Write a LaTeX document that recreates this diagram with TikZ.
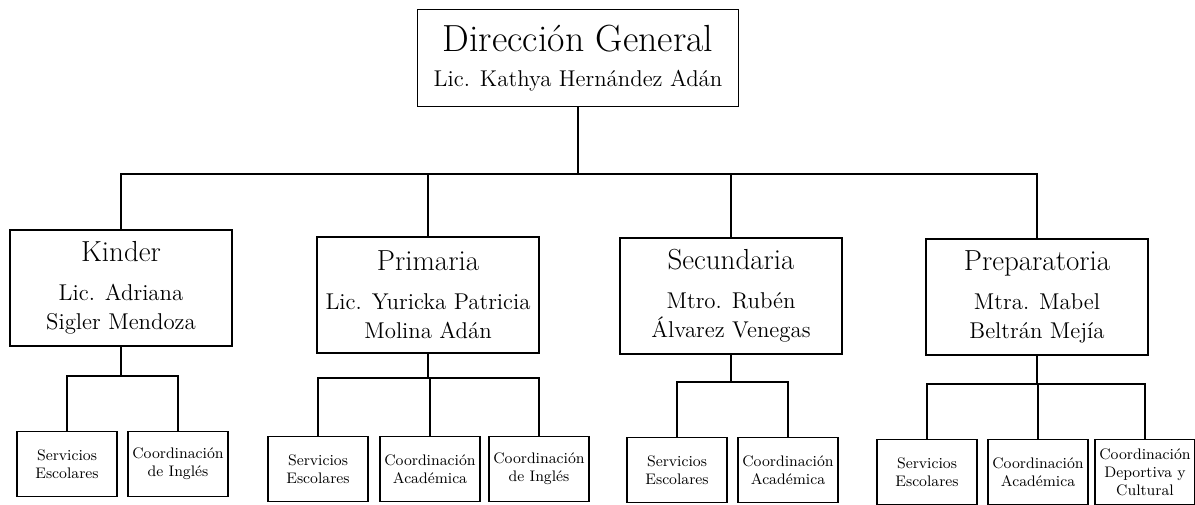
\documentclass[tikz,border=0pt]{standalone}
\usetikzlibrary{calc}
\begin{document}
\begin{tikzpicture}[x=0.02cm,y=-0.02cm,
  jefe/.style={draw,line width=0.8pt,minimum width=4.44cm,minimum height=2.32cm,align=center,inner sep=1pt,font=\fontsize{13}{16.5}\selectfont},
  area/.style={draw,line width=0.7pt,minimum width=2cm,minimum height=1.3cm,align=center,inner sep=1pt,font=\fontsize{8.7}{10.2}\selectfont},
  linea/.style={line width=0.6pt}]
\useasboundingbox (0,0) rectangle (1195,504);
\node[draw,line width=0.8pt,minimum width=6.42cm,minimum height=1.94cm,align=center,font=\fontsize{13}{14}\selectfont] (dir) at (578,58) {{\fontsize{21.5}{24}\selectfont Dirección General}\\[6pt]Lic. Kathya Hernández Adán};
\node[jefe] (kinder) at (121,288) {{\fontsize{16.5}{18}\selectfont Kinder}\\[5.7pt]Lic. Adriana\\Sigler Mendoza};
\node[jefe] (primaria) at (428,295) {{\fontsize{16.5}{18}\selectfont Primaria}\\[5.7pt]Lic. Yuricka Patricia\\Molina Adán};
\node[jefe] (secundaria) at (731,296) {{\fontsize{16.5}{18}\selectfont Secundaria}\\[5.7pt]Mtro. Rubén\\Álvarez Venegas};
\node[jefe] (prepa) at (1037,297) {{\fontsize{16.5}{18}\selectfont Preparatoria}\\[5.7pt]Mtra. Mabel\\Beltrán Mejía};
\node[area] (k1) at (67,464) {Servicios\\Escolares};
\node[area] (k2) at (178,464) {Coordinación\\de Inglés};
\node[area] (p1) at (318,469) {Servicios\\Escolares};
\node[area] (p2) at (430,469) {Coordinación\\Académica};
\node[area] (p3) at (539,469) {Coordinación\\de Inglés};
\node[area] (s1) at (677,470) {Servicios\\Escolares};
\node[area] (s2) at (788,470) {Coordinación\\Académica};
\node[area] (r1) at (927,472) {Servicios\\Escolares};
\node[area] (r2) at (1038,472) {Coordinación\\Académica};
\node[area] (r3) at (1145,472) {Coordinación\\Deportiva y\\Cultural};
\coordinate (dir-bar) at (0,174);
\coordinate (kinder-bar) at (0,376);
\coordinate (primaria-bar) at (0,378);
\coordinate (secundaria-bar) at (0,382);
\coordinate (prepa-bar) at (0,384);
\foreach \n in {kinder,primaria,secundaria,prepa}
  \draw[linea] (dir.south) -- (dir.south |- dir-bar) -| (\n.north);
\foreach \p/\hs in {kinder/{k1,k2},primaria/{p1,p2,p3},secundaria/{s1,s2},prepa/{r1,r2,r3}}
  \foreach \h in \hs
    \draw[linea] (\p.south) -- (\p.south |- \p-bar) -| (\h.north);
\end{tikzpicture}
\end{document}
